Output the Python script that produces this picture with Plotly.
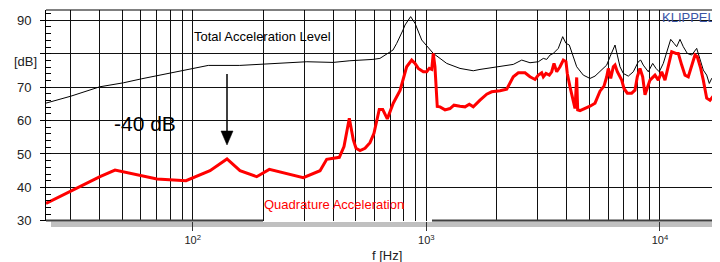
import math
import plotly.graph_objects as go

# ---------------- data ----------------
total_freq = [23.5, 30.1, 40.0, 50.5, 60.5, 80.5, 97.4, 116.6, 159, 221, 308, 399, 471, 591, 633,
              720, 747, 795, 811, 857, 895, 956, 1004, 1071, 1145, 1223, 1394, 1589, 1698, 1814,
              2068, 2357, 2562, 2779, 3017, 3169, 3277, 3385, 3498, 3556, 3674, 3836, 3963, 4095,
              4259, 4404, 4700, 5021, 5275, 5540, 5920, 6115, 6280, 6425, 6572, 6749, 6971, 7324,
              7694, 8083, 8276, 8488, 8919, 9315, 9623, 9940, 10340, 10693, 11123, 11490, 11800,
              12190, 12593, 13100, 13681, 14372, 14848, 15340, 15861, 16272, 16661, 17215, 17608, 18083]
total_db = [65.2, 67.3, 70.1, 71.3, 72.5, 74.2, 75.3, 76.5, 76.5, 77.0, 77.6, 77.4, 77.9, 78.3, 78.6,
            81.1, 83.1, 87.1, 88.6, 91.1, 89.1, 84.1, 82.5, 80.1, 78.6, 77.1, 75.6, 74.9, 75.3, 75.6,
            76.1, 76.8, 78.1, 77.3, 77.6, 78.6, 78.3, 79.6, 80.1, 80.6, 81.6, 85.1, 83.1, 82.6,
            79.1, 76.1, 73.6, 72.6, 73.3, 74.6, 76.6, 79.1, 81.1, 82.6, 79.6, 76.1, 74.1, 73.3,
            74.6, 77.6, 78.1, 76.6, 74.6, 77.1, 75.6, 74.6, 77.1, 80.1, 84.3, 83.1, 82.1,
            84.3, 82.1, 80.1, 79.6, 81.6, 78.6, 75.1, 73.6, 71.1, 72.6, 71.6, 70.6, 71.1]

quad_freq = [23.55, 30.1, 40.1, 46.5, 70.3, 93.6, 118.6, 140.2, 159.4, 187.9, 212.8, 297.5, 350.8,
             374.7, 424.3, 444.3, 468.2, 487, 500.2, 520.3, 546.6, 574, 597, 629, 651, 681, 722, 772,
             824, 866, 895, 924, 971, 1004, 1030, 1055, 1071, 1089, 1114, 1145, 1203, 1263, 1314,
             1394, 1465, 1528, 1589, 1698, 1814, 1905, 2068, 2209, 2282, 2357, 2477, 2646, 2779,
             2920, 3017, 3119, 3169, 3254, 3361, 3442, 3521, 3616, 3736, 3859, 3963, 4014, 4123,
             4234, 4331, 4404, 4447, 4550, 4780, 5021, 5275, 5449, 5540, 5763, 5920, 6014, 6158,
             6318, 6425, 6572, 6703, 6863, 7019, 7252, 7572, 7822, 8002, 8218, 8440, 8634, 9070,
             9528, 9844, 10180, 10515, 10863, 11234, 11721, 11990, 12398, 12806, 13231, 13681,
             14135, 14458, 14952, 15340, 15600, 15861, 16387, 16827, 17215, 17608, 18083]
quad_db = [35.2, 38.9, 43.2, 45.2, 42.5, 42.0, 45.0, 48.5, 45.0, 43.2, 45.4, 42.9, 45.0,
           48.4, 49.0, 52.2, 60.7, 54.2, 51.7, 51.0, 51.7, 53.4, 56.2, 63.3, 63.3, 60.5, 65.2, 69.0,
           76.1, 78.1, 77.1, 75.6, 74.6, 74.6, 75.6, 75.3, 80.1, 76.1, 64.2, 64.1, 63.2, 63.6, 64.6,
           64.3, 64.1, 64.9, 64.1, 66.1, 67.9, 68.6, 68.9, 69.4, 71.1, 73.1, 74.3, 74.3, 73.1,
           72.3, 73.6, 74.3, 73.1, 74.1, 73.6, 74.6, 77.1, 74.6, 76.1, 78.1, 77.6, 74.1, 70.1,
           66.1, 63.6, 72.9, 63.2, 63.0, 63.6, 64.3, 65.2, 67.6, 68.8, 70.3, 73.1, 75.6, 72.6,
           76.1, 76.6, 74.6, 73.6, 72.1, 69.6, 68.2, 68.2, 69.1, 73.1, 75.6, 73.1, 67.7, 72.1,
           73.6, 72.1, 74.6, 72.1, 76.1, 80.6, 80.1, 80.1, 76.6, 73.6, 73.1, 76.1,
           79.6, 79.1, 75.6, 72.1, 69.6, 66.7, 66.1, 67.1, 65.6, 66.7, 67.1]

x_tick_vals = [100, 1000, 10000]
x_tick_text = ["10<sup>2</sup>", "10<sup>3</sup>", "10<sup>4</sup>"]
x_minor_vals = [m * d for d in (10, 100, 1000) for m in range(2, 10)]
y_tick_vals = [30, 40, 50, 60, 70, 80, 90]
y_tick_text = ["30", "40", "50", "60", "70", "", "90"]

# ---------------- layout helpers ----------------
# The page body adds an 8 px offset; the figure is sized so that the
# plot area lands at window pixels x 46..720, y 10..221.
OFF = 8
W, H = 720 - OFF, 262 - OFF
L, R, T, B = 46 - OFF, 0, 10 - OFF, 41
PW, PH = W - L - R, H - T - B
PLOT_L, PLOT_B = 46, 221
FONT = "Liberation Sans, Arial, sans-serif"


def px(x):
    """window pixel x -> paper fraction"""
    return (x - PLOT_L) / PW


def py(y):
    """window pixel y -> paper fraction"""
    return (PLOT_B - y) / PH


fig = go.Figure()
fig.add_trace(go.Scatter(x=total_freq, y=total_db, mode="lines",
                         line=dict(color="black", width=1), hoverinfo="skip"))
fig.add_trace(go.Scatter(x=quad_freq, y=quad_db, mode="lines",
                         line=dict(color="#ff0000", width=3), hoverinfo="skip"))

shapes = [
    # top frame
    dict(type="line", xref="paper", yref="paper", x0=0, x1=1.01, y0=1, y1=1,
         line=dict(color="black", width=1), layer="above"),
    # grey shadow bar under bottom axis
    dict(type="rect", xref="paper", yref="paper", x0=px(51), x1=1.02, y0=py(227), y1=py(221.5),
         fillcolor="#c0c0c0", line=dict(width=0), layer="below"),
    # bottom axis line (interrupted by the label box)
    dict(type="line", xref="paper", yref="paper", x0=0, x1=px(263), y0=py(220.6), y1=py(220.6),
         line=dict(color="#404040", width=2), layer="above"),
    dict(type="line", xref="paper", yref="paper", x0=px(432), x1=1.02, y0=py(220.6), y1=py(220.6),
         line=dict(color="#404040", width=2), layer="above"),
    # white boxes behind labels
    dict(type="rect", xref="paper", yref="paper", x0=px(95), x1=px(216), y0=py(149), y1=py(99),
         fillcolor="white", line=dict(width=0), layer="between"),
    dict(type="rect", xref="paper", yref="paper", x0=px(263), x1=px(432), y0=py(222), y1=py(196),
         fillcolor="white", line=dict(width=0), layer="between"),
    # arrow
    dict(type="line", xref="paper", yref="paper", x0=px(227), x1=px(227), y0=py(74), y1=py(133),
         line=dict(color="black", width=1.5), layer="above"),
    dict(type="path", xref="paper", yref="paper",
         path=f"M {px(221)} {py(131)} L {px(233)} {py(131)} L {px(227)} {py(145)} Z",
         fillcolor="black", line=dict(color="black", width=0.5), layer="above"),
]

annotations = [
    dict(text="Total Acceleration Level", x=px(191.5), y=py(36.5), xanchor="left", yanchor="middle",
         font=dict(size=13, color="black", family=FONT)),
    dict(text="-40 dB", x=px(145), y=py(123), xanchor="center", yanchor="middle",
         font=dict(size=21, color="black", family=FONT)),
    dict(text="Quadrature Acceleration", x=px(262), y=py(204), xanchor="left", yanchor="middle",
         font=dict(size=13, color="#ff0000", family=FONT)),
    dict(text="KLIPPEL", x=px(688), y=py(17), xanchor="center", yanchor="middle",
         font=dict(size=13, color="#3a55a5", family=FONT)),
    dict(text="f [Hz]", x=px(387), y=py(255), xanchor="center", yanchor="middle",
         font=dict(size=13, color="#222", family=FONT)),
    dict(text="[dB]", x=px(25), y=py(61), xanchor="center", yanchor="middle",
         font=dict(size=13, color="#222", family=FONT)),
]
for a in annotations:
    a.update(xref="paper", yref="paper", showarrow=False)

x_lo = math.log10(23.55)
x_hi = 4.2573

fig.update_layout(
    width=W, height=H, margin=dict(l=L, r=R, t=T, b=B, pad=0),
    paper_bgcolor="white", plot_bgcolor="white", showlegend=False,
    font=dict(family=FONT, color="#222"),
    shapes=shapes, annotations=annotations,
    xaxis=dict(type="log", range=[x_lo, x_hi], tickmode="array", tickvals=x_tick_vals,
               ticktext=x_tick_text, ticks="outside", ticklen=9, tickcolor="#333", tickwidth=1,
               showgrid=True, gridcolor="#111", gridwidth=1, showline=False, zeroline=False,
               tickfont=dict(size=11, family=FONT, color="#222"),
               minor=dict(tickmode="array", tickvals=x_minor_vals, showgrid=True,
                          gridcolor="#111", gridwidth=1, ticks="")),
    yaxis=dict(range=[29.95, 93.08], tickmode="array", tickvals=y_tick_vals, ticktext=y_tick_text,
               ticks="outside", ticklen=5, tickcolor="black", tickwidth=1,
               showgrid=True, gridcolor="#111", gridwidth=1, showline=True, linecolor="black",
               linewidth=1, zeroline=False, ticklabelstandoff=6,
               tickfont=dict(size=13, family=FONT, color="#222"),
               minor=dict(dtick=2, ticks="inside", ticklen=5, tickcolor="black", tickwidth=1,
                          showgrid=False)),
)

fig.write_html("out.html")
